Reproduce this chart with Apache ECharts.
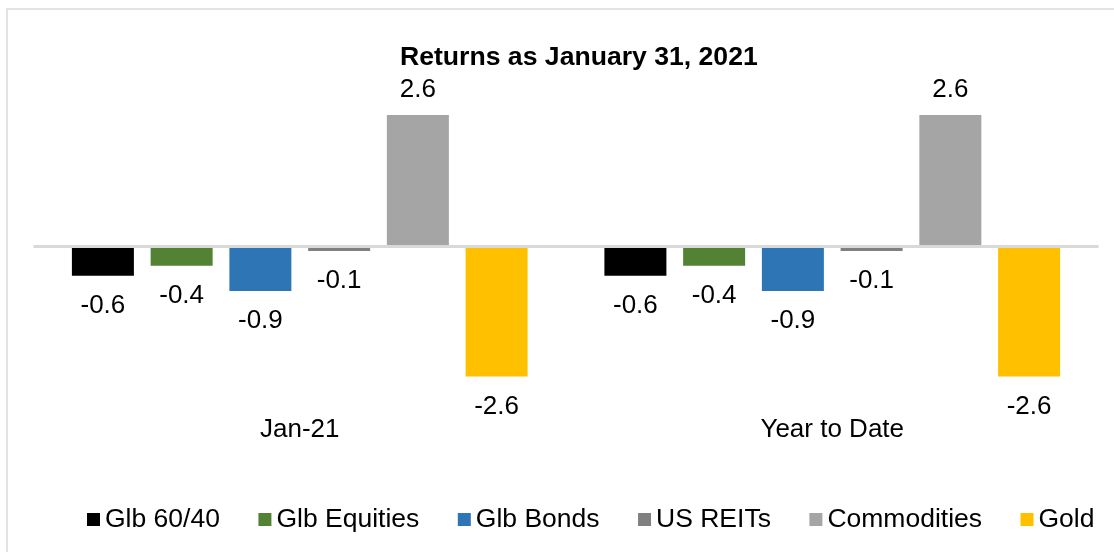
<!DOCTYPE html>
<html>
<head>
<meta charset="utf-8">
<script src="https://cdn.jsdelivr.net/npm/echarts@6/dist/echarts.min.js"></script>
<style>
html,body{margin:0;padding:0;background:#fff;}
#chart{width:1114px;height:552px;}
</style>
</head>
<body>
<div id="chart"></div>
<script>
const titleText = 'Returns as January 31, 2021';
const categories = ['Jan-21', 'Year to Date'];
const seriesNames = ['Glb 60/40', 'Glb Equities', 'Glb Bonds', 'US REITs', 'Commodities', 'Gold'];
const glb6040 = [-0.58, -0.58];
const glbEquities = [-0.38, -0.38];
const glbBonds = [-0.88, -0.88];
const usReits = [-0.09, -0.09];
const commodities = [2.6, 2.6];
const gold = [-2.57, -2.57];
const colors = ['#000000', '#548235', '#2E75B6', '#808080', '#A5A5A5', '#FFC000'];

const seriesValues = [glb6040, glbEquities, glbBonds, usReits, commodities, gold];
const FONT = '"Liberation Sans", Arial, sans-serif';

const chart = echarts.init(document.getElementById('chart'), null, {renderer: 'canvas'});

const series = seriesNames.map((name, i) => {
  const s = {
    name: name,
    type: 'bar',
    barWidth: 62,
    barGap: '27%',
    itemStyle: {color: colors[i]},
    data: seriesValues[i].map(v => ({
      value: v,
      label: v < 0 ? {position: 'bottom', distance: 17} : {position: 'top', distance: 12}
    })),
    label: {
      show: true,
      color: '#000',
      fontSize: 26,
      fontFamily: FONT,
      formatter: p => p.value.toFixed(1)
    }
  };
  if (i === 0) {
    s.markLine = {
      silent: true,
      symbol: 'none',
      label: {show: false},
      lineStyle: {color: '#d9d9d9', width: 3, type: 'solid'},
      data: [{yAxis: 0}],
      z: 10
    };
  }
  return s;
});

chart.setOption({
  animation: false,
  backgroundColor: '#fff',
  color: colors,
  title: {
    text: titleText,
    left: 400,
    top: 44,
    padding: 0,
    textStyle: {fontFamily: FONT, fontSize: 26.6, fontWeight: 'bold', color: '#000'}
  },
  legend: {
    left: 87,
    top: 506,
    padding: 0,
    itemWidth: 13,
    itemHeight: 13,
    itemGap: 38.5,
    icon: 'rect',
    textStyle: {fontFamily: FONT, fontSize: 26.5, color: '#000'},
    data: seriesNames
  },
  graphic: [{
    type: 'rect',
    shape: {x: 7, y: 9, width: 1300, height: 800},
    style: {fill: 'none', stroke: '#e3e3e3', lineWidth: 2},
    silent: true,
    z: -1
  }],
  grid: {left: 33.5, right: 15.5, top: 94.7, bottom: 153.7, containLabel: false},
  xAxis: {
    type: 'category',
    data: categories,
    axisLine: {show: false},
    axisTick: {show: false},
    axisLabel: {margin: 19, fontSize: 26, fontFamily: FONT, color: '#000'}
  },
  yAxis: {
    type: 'value',
    min: -3,
    max: 3,
    interval: 1,
    show: false,
    splitLine: {show: false}
  },
  series: series
});
</script>
</body>
</html>
